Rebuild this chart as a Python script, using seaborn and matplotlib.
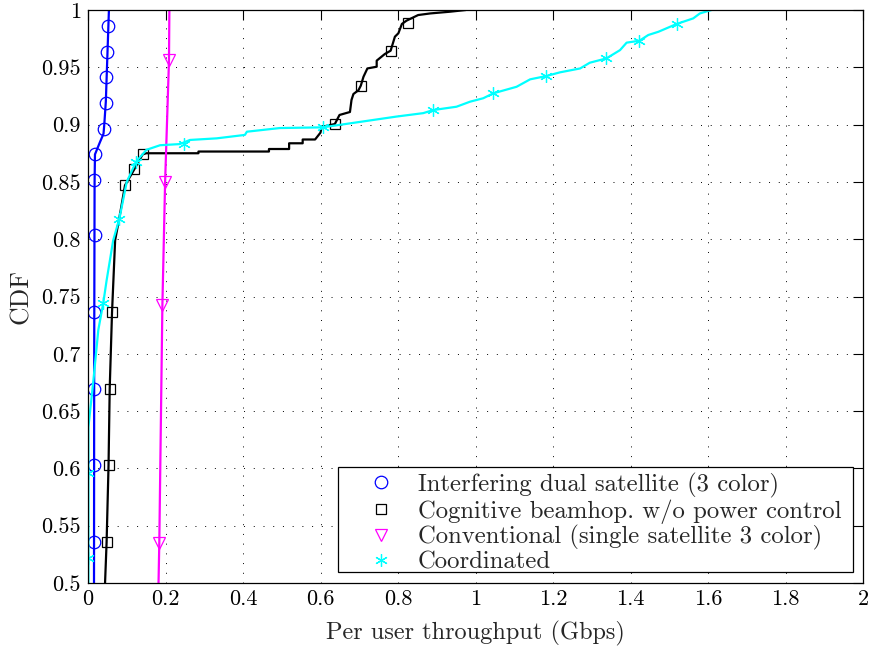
import numpy as np
import pandas as pd
import matplotlib
matplotlib.use("Agg")
import matplotlib.pyplot as plt
import seaborn as sns
from matplotlib.ticker import FuncFormatter
from matplotlib.patches import Rectangle

# ---------------- data ----------------
labels = ["Interfering dual satellite (3 color)",
          "Cognitive beamhop. w/o power control",
          "Conventional (single satellite 3 color)",
          "Coordinated"]

blue_x = [0.0155, 0.016, 0.017, 0.018, 0.030, 0.040, 0.042, 0.046, 0.050, 0.054]
blue_y = [0.5, 0.70, 0.85, 0.874, 0.884, 0.892, 0.9, 0.92, 0.96, 1.0]
blue_mx = [0.0155, 0.0155, 0.0155, 0.016, 0.017, 0.0155, 0.018, 0.041, 0.0456, 0.047, 0.050, 0.052]
blue_my = [0.5355, 0.6027, 0.6695, 0.7362, 0.8034, 0.8517, 0.8743, 0.8964, 0.9186, 0.9413, 0.9636, 0.986]

black_x = [0.044, 0.048, 0.053, 0.056, 0.062, 0.070, 0.083, 0.0955, 0.1195, 0.141, 0.15,
           0.285, 0.285, 0.467, 0.467, 0.519, 0.519, 0.554, 0.554, 0.586, 0.60, 0.603,
           0.637, 0.649, 0.676, 0.680, 0.685, 0.698, 0.704, 0.711, 0.721, 0.745, 0.745,
           0.766, 0.781, 0.792, 0.801, 0.810, 0.822, 0.852, 0.883, 0.934, 0.975]
black_y = [0.5, 0.5355, 0.6027, 0.6695, 0.7362, 0.799, 0.8226, 0.847, 0.861, 0.874, 0.875,
           0.875, 0.8765, 0.8765, 0.8787, 0.8787, 0.8837, 0.8837, 0.887, 0.887, 0.893, 0.898,
           0.9005, 0.9084, 0.911, 0.9215, 0.9267, 0.930, 0.934, 0.9418, 0.949, 0.9505, 0.9558,
           0.9616, 0.9645, 0.9767, 0.9797, 0.9878, 0.9907, 0.9956, 0.997, 0.9985, 1.0]
black_mx = [0.048, 0.053, 0.056, 0.062, 0.0955, 0.1195, 0.141, 0.637, 0.704, 0.781, 0.825]
black_my = [0.5355, 0.6027, 0.6695, 0.7362, 0.847, 0.861, 0.874, 0.9005, 0.934, 0.9645, 0.989]

mag_x = [0.182, 0.184, 0.192, 0.199, 0.209, 0.210]
mag_y = [0.5, 0.535, 0.743, 0.85, 0.956, 1.0]
mag_mx = [0.184, 0.192, 0.199, 0.209]
mag_my = [0.5346, 0.7426, 0.850, 0.9564]

cyan_x = [0.001, 0.001, 0.001, 0.014, 0.0266, 0.0395, 0.048, 0.065, 0.081, 0.100, 0.124,
          0.151, 0.186, 0.237, 0.263, 0.332, 0.405, 0.41, 0.495, 0.6055, 0.796, 0.865,
          0.891, 0.951, 0.986, 1.020, 1.046, 1.106, 1.141, 1.183, 1.218, 1.270, 1.295,
          1.338, 1.373, 1.390, 1.423, 1.446, 1.472, 1.519, 1.562, 1.579, 1.609]
cyan_y = [0.5, 0.596, 0.636, 0.677, 0.7208, 0.7446, 0.764, 0.799, 0.818, 0.850, 0.8676,
          0.878, 0.882, 0.883, 0.8866, 0.888, 0.891, 0.8938, 0.897, 0.8976, 0.907, 0.910,
          0.9127, 0.9156, 0.920, 0.923, 0.9273, 0.933, 0.9395, 0.9424, 0.9456, 0.949, 0.954,
          0.9578, 0.965, 0.9715, 0.9732, 0.9782, 0.981, 0.9878, 0.9927, 0.997, 1.0]
cyan_mx = [0.001, 0.001, 0.0395, 0.081, 0.124, 0.248, 0.6055, 0.891, 1.046, 1.183, 1.338, 1.423, 1.519]
cyan_my = [0.522, 0.5963, 0.7446, 0.818, 0.8676, 0.883, 0.8976, 0.9127, 0.9273, 0.9424, 0.9578, 0.9732, 0.9878]

x_ticks = [0, 0.2, 0.4, 0.6, 0.8, 1.0, 1.2, 1.4, 1.6, 1.8, 2.0]
y_ticks = [0.5, 0.55, 0.6, 0.65, 0.7, 0.75, 0.8, 0.85, 0.9, 0.95, 1.0]

# ---------------- style ----------------
sns.set_theme(style="white")
plt.rcParams["font.family"] = ["cmr10", "DejaVu Serif"]
plt.rcParams["axes.formatter.use_mathtext"] = True
plt.rcParams["mathtext.fontset"] = "cm"

fig = plt.figure(figsize=(8.71, 6.49), dpi=100)
ax = fig.add_axes([88 / 871, 1 - 583 / 649, 775 / 871, 573 / 649])

series = [
    (blue_x, blue_y, blue_mx, blue_my, "#0000FF", "o", 9),
    (black_x, black_y, black_mx, black_my, "#000000", "s", 7),
    (mag_x, mag_y, mag_mx, mag_my, "#FF00FF", "v", 9),
    (cyan_x, cyan_y, cyan_mx, cyan_my, "#00FFFF", (6, 2, 0), 9),
]

for (lx, ly, mx, my, col, mk, ms), lab in zip(series, labels):
    sns.lineplot(x=lx, y=ly, ax=ax, color=col, lw=1.6, sort=False,
                 estimator=None, legend=False)
    sns.lineplot(x=mx, y=my, ax=ax, color=col, linestyle="", marker=mk,
                 markersize=ms, markerfacecolor="none", markeredgecolor=col,
                 markeredgewidth=0.9, sort=False, estimator=None, label=lab)

ax.set_xlim(0, 2)
ax.set_ylim(0.5, 1)
ax.set_xticks(x_ticks)
ax.set_yticks(y_ticks)
fmt = FuncFormatter(lambda v, p: "%g" % v)
ax.xaxis.set_major_formatter(fmt)
ax.yaxis.set_major_formatter(fmt)
ax.tick_params(direction="in", length=7, width=0.8, top=True, right=True,
               labelsize=16, colors="black", pad=5)
ax.grid(True, color="black", linestyle=(0, (1, 9)), linewidth=0.7)
for s in ax.spines.values():
    s.set_color("black")
    s.set_linewidth(0.9)
    s.set_visible(True)

ax.set_xlabel("Per user throughput (Gbps)", fontsize=17.5, labelpad=8)
ax.set_ylabel("CDF", fontsize=18.5, labelpad=6)

# legend frame (MATLAB-style tight box) and legend content
frame = Rectangle((250 / 775, 10.7 / 573), 515 / 775, 105.6 / 573,
                  transform=ax.transAxes, facecolor="white", edgecolor="black",
                  linewidth=0.9, zorder=4.5)
ax.add_patch(frame)
leg = ax.legend(loc="upper left", bbox_to_anchor=(268.3 / 775, 110.5 / 573),
                frameon=False, fontsize=17.8, numpoints=1,
                handlelength=2.0, handletextpad=0.5, labelspacing=0.06,
                borderpad=0, borderaxespad=0)
leg.set_zorder(5)

fig.savefig("out.png", dpi=100)
